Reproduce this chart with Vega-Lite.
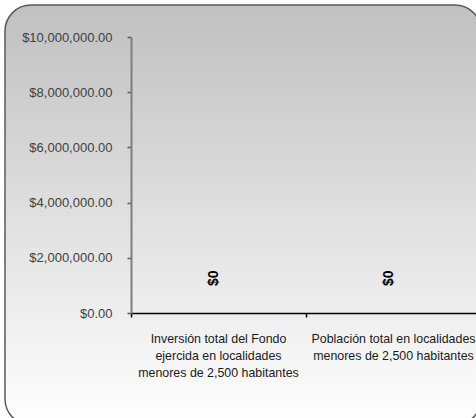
{
  "$schema": "https://vega.github.io/schema/vega-lite/v6.json",
  "autosize": {"type": "none"},
  "padding": {"left": 5, "top": 5, "right": 0, "bottom": 0},
  "width": 476,
  "height": 420,
  "background": "#ffffff",
  "config": {
    "view": {
      "cornerRadius": 26,
      "stroke": "#5a5a5a",
      "strokeWidth": 1.5,
      "fill": {"gradient": "linear", "x1": 0, "y1": 0, "x2": 0, "y2": 1,
        "stops": [{"offset": 0, "color": "#c0c0c0"}, {"offset": 1, "color": "#ffffff"}]}
    },
    "font": "Liberation Sans"
  },
  "data": {"values": [
    {"cat": "Inversión total del Fondo ejercida en localidades menores de 2,500 habitantes", "valor": 0, "etiqueta": "$0"},
    {"cat": "Población total en localidades menores de 2,500 habitantes", "valor": 0, "etiqueta": "$0"}
  ]},
  "encoding": {
    "x": {
      "field": "cat", "type": "nominal", "sort": null,
      "scale": {"range": [126, 476], "paddingInner": 0, "paddingOuter": 0},
      "axis": {
        "title": null, "orient": "bottom", "offset": -112,
        "labelAngle": 0, "bandPosition": 0,
        "domainColor": "#000000", "domainWidth": 1.5,
        "tickColor": "#000000", "tickWidth": 1.5, "tickSize": 4,
        "labelFont": "Liberation Sans", "labelFontSize": 12.4, "labelColor": "#1a1a1a",
        "labelPadding": 15, "labelLineHeight": 17, "labelBaseline": "top",
        "labelExpr": "datum.index == 0 ? ['Inversión total del Fondo', 'ejercida en localidades', 'menores de 2,500 habitantes'] : ['Población total en localidades', 'menores de 2,500 habitantes']"
      }
    },
    "y": {
      "field": "valor", "type": "quantitative",
      "scale": {"domain": [0, 10000000], "range": [308, 32], "nice": false},
      "axis": {
        "title": null, "orient": "left", "offset": -126,
        "values": [0, 2000000, 4000000, 6000000, 8000000, 10000000],
        "format": "$,.2f", "grid": false,
        "domainColor": "#7f7f7f", "domainWidth": 2,
        "tickColor": "#595959", "tickWidth": 1.5, "tickSize": 4,
        "labelFont": "Liberation Sans", "labelFontSize": 13, "labelColor": "#404040",
        "labelPadding": 15
      }
    }
  },
  "layer": [
    {"mark": {"type": "bar", "color": "#4f81bd"}},
    {
      "mark": {"type": "text", "angle": 270, "align": "left", "baseline": "middle",
        "dx": 27, "dy": -5, "fontWeight": "bold", "fontSize": 14, "color": "#000000",
        "font": "Liberation Sans"},
      "encoding": {"text": {"field": "etiqueta"}}
    }
  ]
}
